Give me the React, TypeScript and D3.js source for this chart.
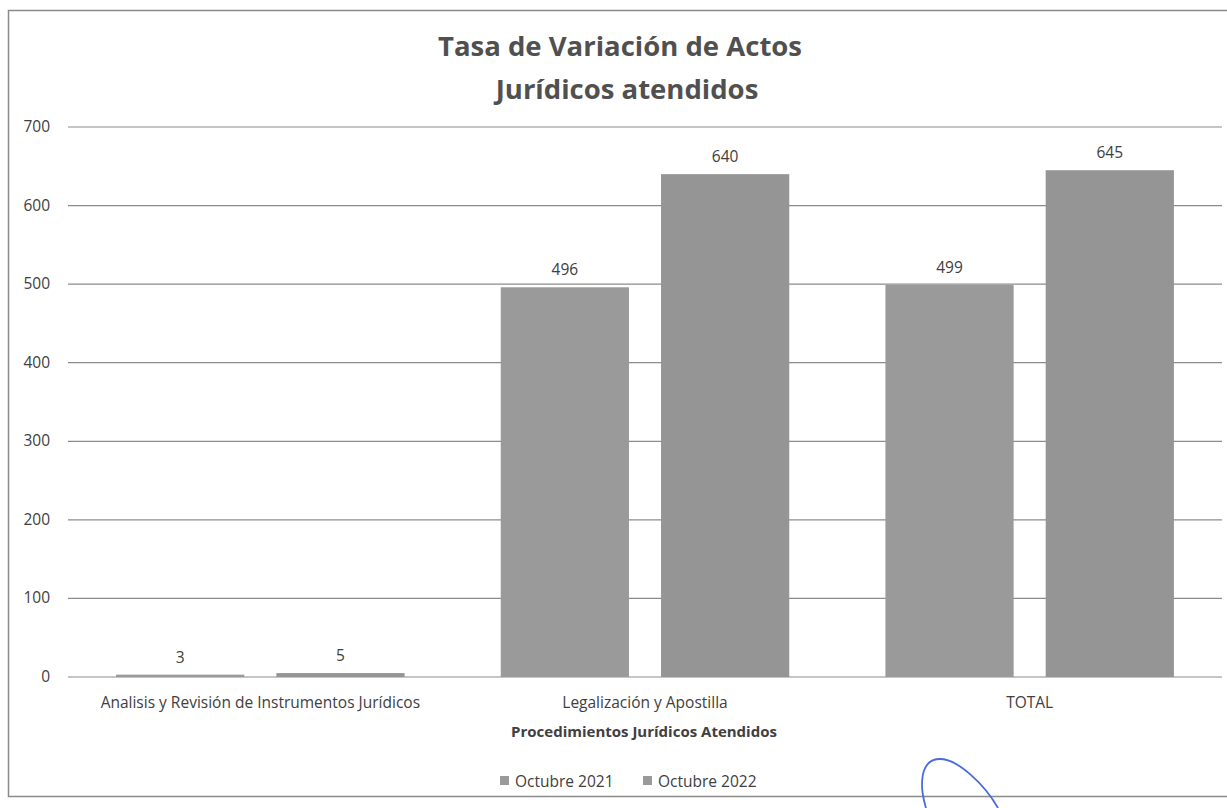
import React, { useEffect, useRef } from "react";
import * as d3 from "d3";

const categories = [
  "Analisis y Revisión de Instrumentos Jurídicos",
  "Legalización y Apostilla",
  "TOTAL",
];
const seriesNames = ["Octubre 2021", "Octubre 2022"];
const octubre2021 = [3, 496, 499];
const octubre2022 = [5, 640, 645];
const yTicks = [0, 100, 200, 300, 400, 500, 600, 700];

const FONT = "'Open Sans', 'Liberation Sans', sans-serif";

const App = () => {
  const ref = useRef<SVGSVGElement | null>(null);

  useEffect(() => {
    const svg = d3.select(ref.current);
    svg.selectAll("*").remove();

    const W = 1227;
    const H = 808;
    const margin = { top: 127, right: 5, bottom: 131, left: 68 };
    const plotW = W - margin.left - margin.right;
    const plotH = H - margin.top - margin.bottom;

    // outer frame
    svg
      .append("rect")
      .attr("x", 8.5)
      .attr("y", 10.5)
      .attr("width", 1240)
      .attr("height", 786)
      .attr("fill", "white")
      .attr("stroke", "#8a8a8a")
      .attr("stroke-width", 1.5);

    // title
    const title = svg
      .append("text")
      .attr("text-anchor", "middle")
      .attr("font-family", FONT)
      .attr("font-weight", "bold")
      .attr("font-size", 27.5)
      .attr("fill", "#505050");
    title.append("tspan").attr("x", 620).attr("y", 56).text("Tasa de Variación de Actos");
    title.append("tspan").attr("x", 627).attr("y", 99).text("Jurídicos atendidos");

    const g = svg
      .append("g")
      .attr("transform", `translate(${margin.left}, ${margin.top})`);

    const x0 = d3.scaleBand().domain(categories).range([0, plotW]).paddingInner(0.25).paddingOuter(0.125);
    const x1 = d3.scaleBand().domain(seriesNames).range([0, x0.bandwidth()]).paddingInner(0.2);
    const y = d3.scaleLinear().domain([0, 700]).range([plotH, 0]);

    // grid lines
    g.selectAll(".grid")
      .data(yTicks)
      .enter()
      .append("line")
      .attr("x1", 0)
      .attr("x2", plotW)
      .attr("y1", (d) => y(d))
      .attr("y2", (d) => y(d))
      .attr("stroke", "#8c8c8c")
      .attr("stroke-width", 1.2);

    // y tick labels
    g.selectAll(".ytick")
      .data(yTicks)
      .enter()
      .append("text")
      .attr("x", -18)
      .attr("y", (d) => y(d) + 5)
      .attr("text-anchor", "end")
      .attr("font-family", FONT)
      .attr("font-size", 15.5)
      .attr("fill", "#404040")
      .text((d) => d);

    const rows = categories.map((c, i) => ({
      cat: c,
      values: [
        { s: seriesNames[0], v: octubre2021[i] },
        { s: seriesNames[1], v: octubre2022[i] },
      ],
    }));

    const groups = g
      .selectAll(".grp")
      .data(rows)
      .enter()
      .append("g")
      .attr("transform", (d) => `translate(${x0(d.cat)}, 0)`);

    groups
      .selectAll("rect")
      .data((d) => d.values)
      .enter()
      .append("rect")
      .attr("x", (d) => x1(d.s) as number)
      .attr("y", (d) => y(d.v))
      .attr("width", x1.bandwidth())
      .attr("height", (d) => plotH - y(d.v))
      .attr("fill", (d, i) => (i === 0 ? "#9a9a9a" : "#959595"));

    groups
      .selectAll(".lbl")
      .data((d) => d.values)
      .enter()
      .append("text")
      .attr("x", (d) => (x1(d.s) as number) + x1.bandwidth() / 2)
      .attr("y", (d) => y(d.v) - 12)
      .attr("text-anchor", "middle")
      .attr("font-family", FONT)
      .attr("font-size", 15.5)
      .attr("fill", "#404040")
      .text((d) => d.v);

    // category labels
    g.selectAll(".xcat")
      .data(categories)
      .enter()
      .append("text")
      .attr("x", (d) => (x0(d) as number) + x0.bandwidth() / 2)
      .attr("y", plotH + 31)
      .attr("text-anchor", "middle")
      .attr("font-family", FONT)
      .attr("font-size", 15.5)
      .attr("fill", "#404040")
      .text((d) => d);

    // axis title
    svg
      .append("text")
      .attr("x", 644)
      .attr("y", 737)
      .attr("text-anchor", "middle")
      .attr("font-family", FONT)
      .attr("font-weight", "bold")
      .attr("font-size", 15)
      .attr("fill", "#404040")
      .text("Procedimientos Jurídicos Atendidos");

    // legend
    const legend = svg.append("g").attr("transform", "translate(500, 787)");
    const items = legend
      .selectAll(".leg")
      .data(seriesNames)
      .enter()
      .append("g")
      .attr("transform", (d, i) => `translate(${i * 143}, 0)`);
    items
      .append("rect")
      .attr("x", 0)
      .attr("y", -11)
      .attr("width", 9)
      .attr("height", 9)
      .attr("fill", "#9a9a9a");
    items
      .append("text")
      .attr("x", 15)
      .attr("y", 0)
      .attr("font-family", FONT)
      .attr("font-size", 15.5)
      .attr("fill", "#404040")
      .text((d) => d);

    // pen mark from the scan
    svg
      .append("path")
      .attr("d", "M 926 808 C 919 785, 920 759, 940 759 C 958 759, 985 785, 998 808")
      .attr("fill", "none")
      .attr("stroke", "#4a6be0")
      .attr("stroke-width", 1.8);
  }, []);

  return (
    <svg
      ref={ref}
      width={1227}
      height={808}
      style={{ position: "absolute", left: 0, top: 0, background: "white" }}
    />
  );
};

export default App;
